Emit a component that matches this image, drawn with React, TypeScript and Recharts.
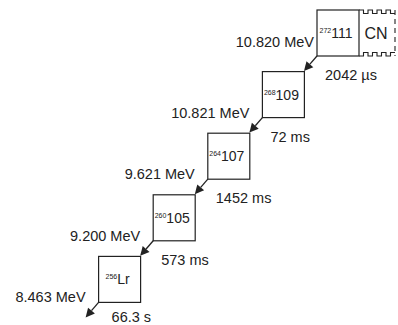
import React from 'react';
import { ScatterChart, Scatter, XAxis, YAxis } from 'recharts';

// decay step (0 = compound nucleus residue 111)
const steps = [0, 1, 2, 3, 4];
const elements = ['111', '109', '107', '105', 'Lr'];
const massNumbers = ['272', '268', '264', '260', '256'];
const alphaEnergies = ['10.820 MeV', '10.821 MeV', '9.621 MeV', '9.200 MeV', '8.463 MeV'];
const lifetimes = ['2042 \u00b5s', '72 ms', '1452 ms', '573 ms', '66.3 s'];
const compoundLabel = 'CN';

const data = steps.map((s, i) => ({
  step: s,
  level: s,
  element: elements[i],
  mass: massNumbers[i],
  energy: alphaEnergies[i],
  lifetime: lifetimes[i],
}));

const lastStep = steps[steps.length - 1];
const FONT = '"Liberation Sans", Arial, Helvetica, sans-serif';
const INK = '#222';

const NuclideShape = (props: any) => {
  const { cx, cy, payload } = props;
  if (cx == null || cy == null) return null;
  const w = 42;
  const h = 46;
  const left = cx - w / 2;
  const right = cx + w / 2;
  const top = cy - h / 2;
  const bottom = cy + h / 2;
  const first = payload.step === 0;
  const last = payload.step === lastStep;

  // alpha-decay arrow from bottom-left corner
  const sx = left;
  const sy = bottom;
  const ex = left - 13;
  const ey = bottom + 15;
  const dx = ex - sx;
  const dy = ey - sy;
  const len = Math.sqrt(dx * dx + dy * dy);
  const ux = dx / len;
  const uy = dy / len;
  const hl = 9;
  const hw = 4.5;
  const bx = ex - ux * hl;
  const by = ey - uy * hl;
  const head = `${ex},${ey} ${bx - uy * hw},${by + ux * hw} ${bx + uy * hw},${by - ux * hw}`;

  // compound nucleus box (castellated top/bottom)
  let cn: React.ReactNode = null;
  if (first) {
    const x0 = right;
    const x1 = right + 36;
    const seg = 4.5;
    let topPath = `M${x0},${top}`;
    let botPath = `M${x0},${bottom}`;
    let hi = true;
    for (let x = x0; x < x1 - 0.1; x += seg) {
      const nx = Math.min(x + seg, x1);
      const yt = hi ? top : top + 3.5;
      const yb = hi ? bottom : bottom - 3.5;
      topPath += ` L${x},${yt} L${nx},${yt}`;
      botPath += ` L${x},${yb} L${nx},${yb}`;
      hi = !hi;
    }
    cn = (
      <g>
        <path d={topPath} fill="none" stroke={INK} strokeWidth={1.1} />
        <path d={botPath} fill="none" stroke={INK} strokeWidth={1.1} />
        <line x1={x1} y1={top} x2={x1} y2={bottom} stroke={INK} strokeWidth={1.1} strokeDasharray="5 4" />
        <text x={(x0 + x1) / 2 - 1} y={cy + 6} textAnchor="middle" fontSize={16} fill={INK} fontFamily={FONT}>
          {compoundLabel}
        </text>
      </g>
    );
  }

  const eRight = first ? left - 3 : left - 13;
  const eY = first ? cy + 14 : bottom;
  const tX = last ? left + 13 : left + 8;
  const tY = last ? bottom + 20 : bottom + 24;
  return (
    <g>
      <rect x={left} y={top} width={w} height={h} fill="#fff" stroke={INK} strokeWidth={1.2} />
      <text x={cx - 2} y={cy + 5} textAnchor="middle" fill={INK} fontFamily={FONT}>
        <tspan fontSize={7} dy={-5}>{payload.mass}</tspan>
        <tspan fontSize={14} dy={5}>{payload.element}</tspan>
      </text>
      {cn}
      <line x1={sx} y1={sy} x2={bx} y2={by} stroke={INK} strokeWidth={1.3} />
      <polygon points={head} fill={INK} />
      <text x={eRight} y={eY} textAnchor="end" fontSize={14.5} fill={INK} fontFamily={FONT}>
        {payload.energy}
      </text>
      <text x={tX} y={tY} textAnchor="start" fontSize={14.5} fill={INK} fontFamily={FONT}>
        {payload.lifetime}
      </text>
    </g>
  );
};

export default function App() {
  return (
    <div style={{ position: 'absolute', left: 0, top: 0, width: 398, height: 325, background: '#fff' }}>
      <ScatterChart width={398} height={325} margin={{ top: 0, right: 0, bottom: 0, left: 0 }}>
        <XAxis type="number" dataKey="step" domain={[-1.0989, 6.1905]} reversed hide allowDataOverflow />
        <YAxis type="number" dataKey="level" domain={[-0.5357, 4.7403]} reversed hide allowDataOverflow />
        <Scatter data={data} shape={<NuclideShape />} isAnimationActive={false} />
      </ScatterChart>
    </div>
  );
}
